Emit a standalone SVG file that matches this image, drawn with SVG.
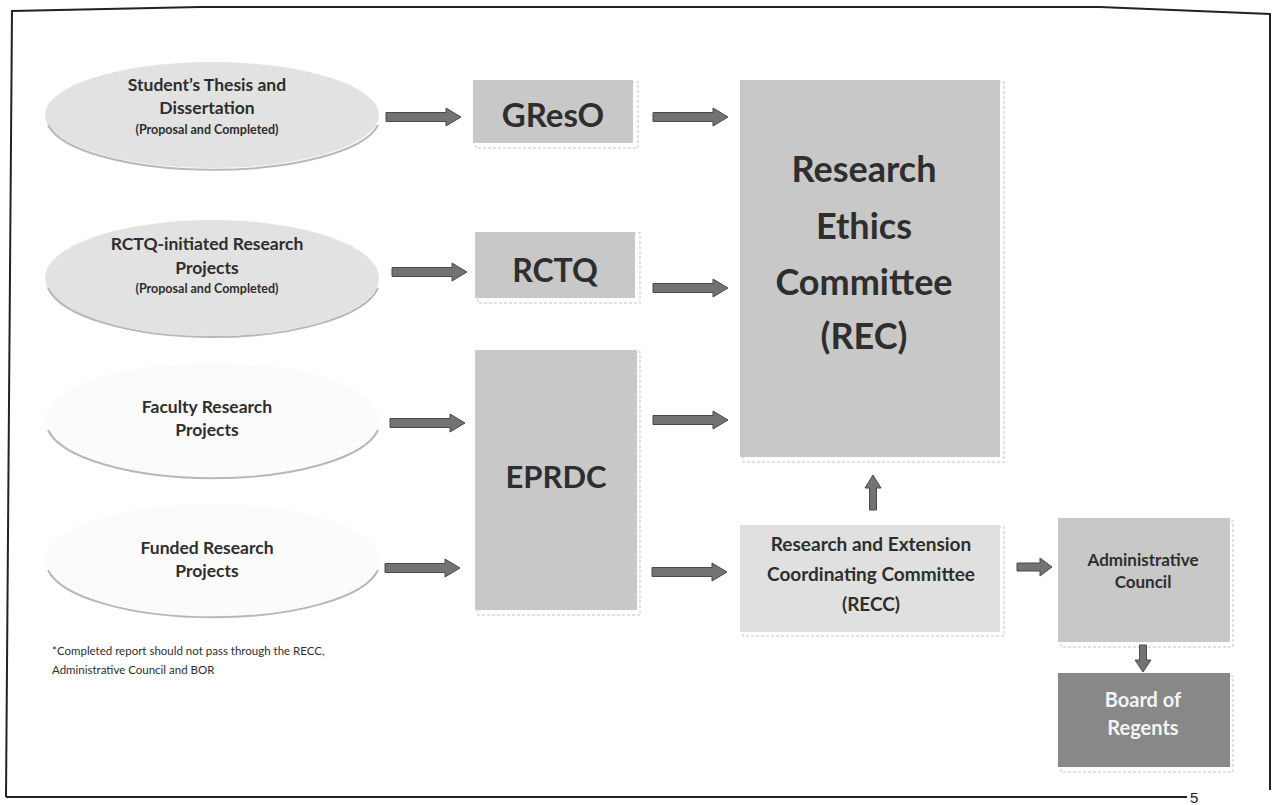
<svg xmlns="http://www.w3.org/2000/svg" width="1273" height="805" viewBox="0 0 1273 805">
<style>
.t{font-family:Lato,"Open Sans","Liberation Sans",sans-serif;font-weight:bold;fill:#2e2e2e;text-anchor:middle}
.e1{fill:#e2e2e2}
.e2{fill:#fbfbfb}
.edge{fill:none;stroke:#b8b8b8;stroke-width:2}
.box{fill:#c8c8c8}
.sh{fill:none;stroke:#d8d8d8;stroke-width:1.5;stroke-dasharray:3 2}
.ar{fill:#737373;stroke:#4a4a4a;stroke-width:1}
.frame{fill:none;stroke:#222;stroke-width:2}
</style>
<defs>
<path id="rar" d="M0,-4.5 H60 V-9 L75,0 L60,9 V4.5 H0 Z"/>
</defs>
<rect width="1273" height="805" fill="#fff"/>
<g id="frame">
<polyline class="frame" points="6,797 12,11 200,7 1100,7 1270,14 1270,790"/>
<line class="frame" x1="6" y1="797" x2="1187" y2="797"/>
<text x="1190" y="803" font-family="Liberation Sans,sans-serif" font-size="15" fill="#222">5</text>
</g>
<g id="n-student">
<ellipse class="e1" cx="212" cy="115" rx="167" ry="53"/>
<path class="edge" d="M48,125 A167,53 0 0 0 378,125"/>
<text class="t" x="207" y="91" font-size="17.5">Student’s Thesis and</text>
<text class="t" x="207" y="114" font-size="17.5">Dissertation</text>
<text class="t" x="207" y="134" font-size="12.5">(Proposal and Completed)</text>
</g>
<g id="n-rctqinit">
<ellipse class="e1" cx="212" cy="278" rx="167" ry="58"/>
<path class="edge" d="M48,288 A167,58 0 0 0 378,288"/>
<text class="t" x="207" y="250" font-size="17.5">RCTQ-initiated Research</text>
<text class="t" x="207" y="274" font-size="17.5">Projects</text>
<text class="t" x="207" y="293" font-size="12.5">(Proposal and Completed)</text>
</g>
<g id="n-faculty">
<ellipse class="e2" cx="212" cy="420" rx="167" ry="57"/>
<path class="edge" d="M48,430 A167,57 0 0 0 378,430"/>
<text class="t" x="207" y="413" font-size="17.5">Faculty Research</text>
<text class="t" x="207" y="436" font-size="17.5">Projects</text>
</g>
<g id="n-funded">
<ellipse class="e2" cx="212" cy="560" rx="167" ry="56"/>
<path class="edge" d="M48,570 A167,56 0 0 0 378,570"/>
<text class="t" x="207" y="554" font-size="17.5">Funded Research</text>
<text class="t" x="207" y="577" font-size="17.5">Projects</text>
</g>
<g id="n-greso">
<rect class="sh" x="476" y="82" width="162" height="66"/>
<rect class="box" x="473" y="80" width="160" height="63"/>
<text class="t" x="553" y="127" font-size="33">GResO</text>
</g>
<g id="n-rctq">
<rect class="sh" x="478" y="233" width="162" height="70"/>
<rect class="box" x="475" y="232" width="160" height="66"/>
<text class="t" x="555" y="282" font-size="32">RCTQ</text>
</g>
<g id="n-eprdc">
<rect class="sh" x="478" y="352" width="162" height="263"/>
<rect class="box" x="475" y="350" width="162" height="260"/>
<text class="t" x="556" y="488" font-size="31">EPRDC</text>
</g>
<g id="n-rec">
<rect class="sh" x="743" y="82" width="261" height="380"/>
<rect class="box" x="740" y="80" width="260" height="377"/>
<text class="t" x="864" y="182" font-size="36">Research</text>
<text class="t" x="864" y="239" font-size="36">Ethics</text>
<text class="t" x="864" y="295" font-size="36">Committee</text>
<text class="t" x="864" y="349" font-size="36">(REC)</text>
</g>
<g id="n-recc">
<rect class="sh" x="743" y="527" width="261" height="109"/>
<rect x="740" y="525" width="260" height="107" fill="#e0e0e0"/>
<text class="t" x="871" y="551" font-size="19">Research and Extension</text>
<text class="t" x="871" y="581" font-size="19">Coordinating Committee</text>
<text class="t" x="871" y="611" font-size="19">(RECC)</text>
</g>
<g id="n-admin">
<rect class="sh" x="1061" y="521" width="172" height="126"/>
<rect class="box" x="1058" y="518" width="172" height="124"/>
<text class="t" x="1143" y="566" font-size="17">Administrative</text>
<text class="t" x="1143" y="588" font-size="17">Council</text>
</g>
<g id="n-bor">
<rect class="sh" x="1061" y="676" width="172" height="96"/>
<rect x="1058" y="673" width="172" height="94" fill="#888"/>
<text class="t" x="1143" y="707" font-size="20" style="fill:#f4f4f4">Board of</text>
<text class="t" x="1143" y="735" font-size="20" style="fill:#f4f4f4">Regents</text>
</g>
<g id="connectors">
<use href="#rar" class="ar" transform="translate(386,117)"/>
<use href="#rar" class="ar" transform="translate(392,272)"/>
<use href="#rar" class="ar" transform="translate(390,423)"/>
<use href="#rar" class="ar" transform="translate(385,568)"/>
<use href="#rar" class="ar" transform="translate(653,117)"/>
<use href="#rar" class="ar" transform="translate(653,288)"/>
<use href="#rar" class="ar" transform="translate(653,420)"/>
<use href="#rar" class="ar" transform="translate(652,572)"/>
<path class="ar" d="M869.5,510 V488 H865 L873,475 L881,488 H876.5 V510 Z"/>
<path class="ar" d="M1017,563 H1040 V558 L1052,567 L1040,576 V571 H1017 Z"/>
<path class="ar" d="M1139.5,645 V660 H1135 L1143,672 L1151,660 H1146.5 V645 Z"/>
</g>
<g id="footnote">
<text x="52" y="655" font-family="Lato,'Open Sans','Liberation Sans',sans-serif" font-size="11.5" fill="#2e2e2e">*Completed report should not pass through the RECC,</text>
<text x="52" y="674" font-family="Lato,'Open Sans','Liberation Sans',sans-serif" font-size="11.5" fill="#2e2e2e">Administrative Council and BOR</text>
</g>
</svg>
